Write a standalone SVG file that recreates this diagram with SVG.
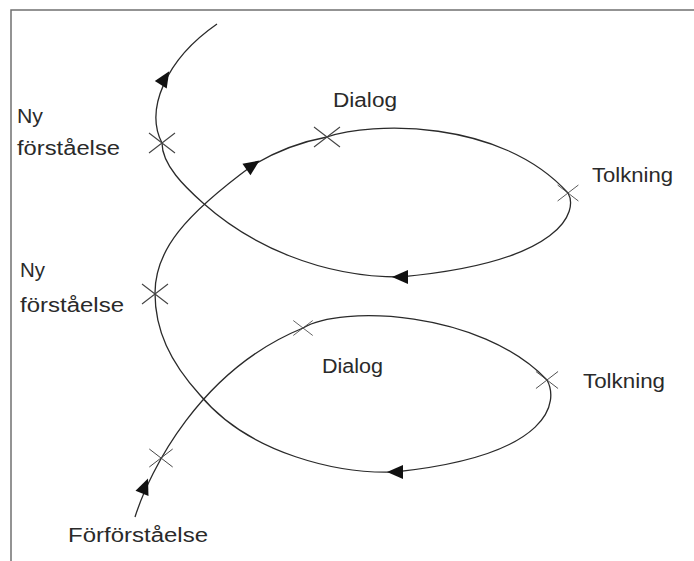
<svg xmlns="http://www.w3.org/2000/svg" width="694" height="561" viewBox="0 0 694 561">
<defs>
<style>
.frame{fill:none;stroke:#707070;stroke-width:1.5}
.curve{fill:none;stroke:#2a2a2a;stroke-width:1.3}
.mark{stroke:#444;stroke-width:1.1}
.lbl{font-family:"Liberation Sans",Arial,sans-serif;font-size:20px;fill:#2a2a2a}
</style>
<path id="ah" d="M8,0 L-8,-7 L-8,7 Z" fill="#111"/>
<path id="xm" d="M-13,-10 L13,10 M-13,10 L13,-10" class="mark"/>
</defs>
<rect width="694" height="561" fill="#ffffff"/>
<path class="frame" d="M11,561 L11,10 L694,10"/>
<g id="connectors">
<path class="curve" d="M135,517 C150,470 200,370 303,328 C340,305 480,310 547,380 C558,400 555,455 395,472 C340,474 250,455 200,395 C170,362 155,330 155,293 C155,250 185,215 253,165 C275,152 300,142 327,137 C370,122 500,118 568,193 C578,210 565,262 400,277 C320,277 250,245 203,203 C185,187 162,165 162,143 C145,110 165,60 217,24"/>
<use href="#ah" transform="translate(145,486) rotate(-68)"/>
<use href="#ah" transform="translate(253,165) rotate(-35)"/>
<use href="#ah" transform="translate(400,277) rotate(180)"/>
<use href="#ah" transform="translate(395,472) rotate(180)"/>
<use href="#ah" transform="translate(165,78) rotate(-58)"/>
</g>
<g id="m1"><use href="#xm" transform="translate(162,143)"/></g>
<g id="m2"><use href="#xm" transform="translate(327,137)"/></g>
<g id="m3"><use href="#xm" transform="translate(568,193) scale(0.8)"/></g>
<g id="m4"><use href="#xm" transform="translate(155,294)"/></g>
<g id="m5"><use href="#xm" transform="translate(303,328) scale(0.75)"/></g>
<g id="m6"><use href="#xm" transform="translate(547,380) scale(0.85)"/></g>
<g id="m7"><use href="#xm" transform="translate(161,458) scale(0.9)"/></g>
<g id="ny1"><text class="lbl" x="17" y="123" textLength="26" lengthAdjust="spacingAndGlyphs">Ny</text><text class="lbl" x="17" y="155" textLength="103" lengthAdjust="spacingAndGlyphs">förståelse</text></g>
<g id="ny2"><text class="lbl" x="20" y="277" textLength="25" lengthAdjust="spacingAndGlyphs">Ny</text><text class="lbl" x="20" y="312" textLength="104" lengthAdjust="spacingAndGlyphs">förståelse</text></g>
<g id="dialog1"><text class="lbl" x="333" y="107" textLength="64" lengthAdjust="spacingAndGlyphs">Dialog</text></g>
<g id="tolkning1"><text class="lbl" x="592" y="182" textLength="81" lengthAdjust="spacingAndGlyphs">Tolkning</text></g>
<g id="dialog2"><text class="lbl" x="322" y="373" textLength="61" lengthAdjust="spacingAndGlyphs">Dialog</text></g>
<g id="tolkning2"><text class="lbl" x="583" y="388" textLength="82" lengthAdjust="spacingAndGlyphs">Tolkning</text></g>
<g id="forforstaelse"><text class="lbl" x="68" y="542" textLength="140" lengthAdjust="spacingAndGlyphs">Förförståelse</text></g>
</svg>
